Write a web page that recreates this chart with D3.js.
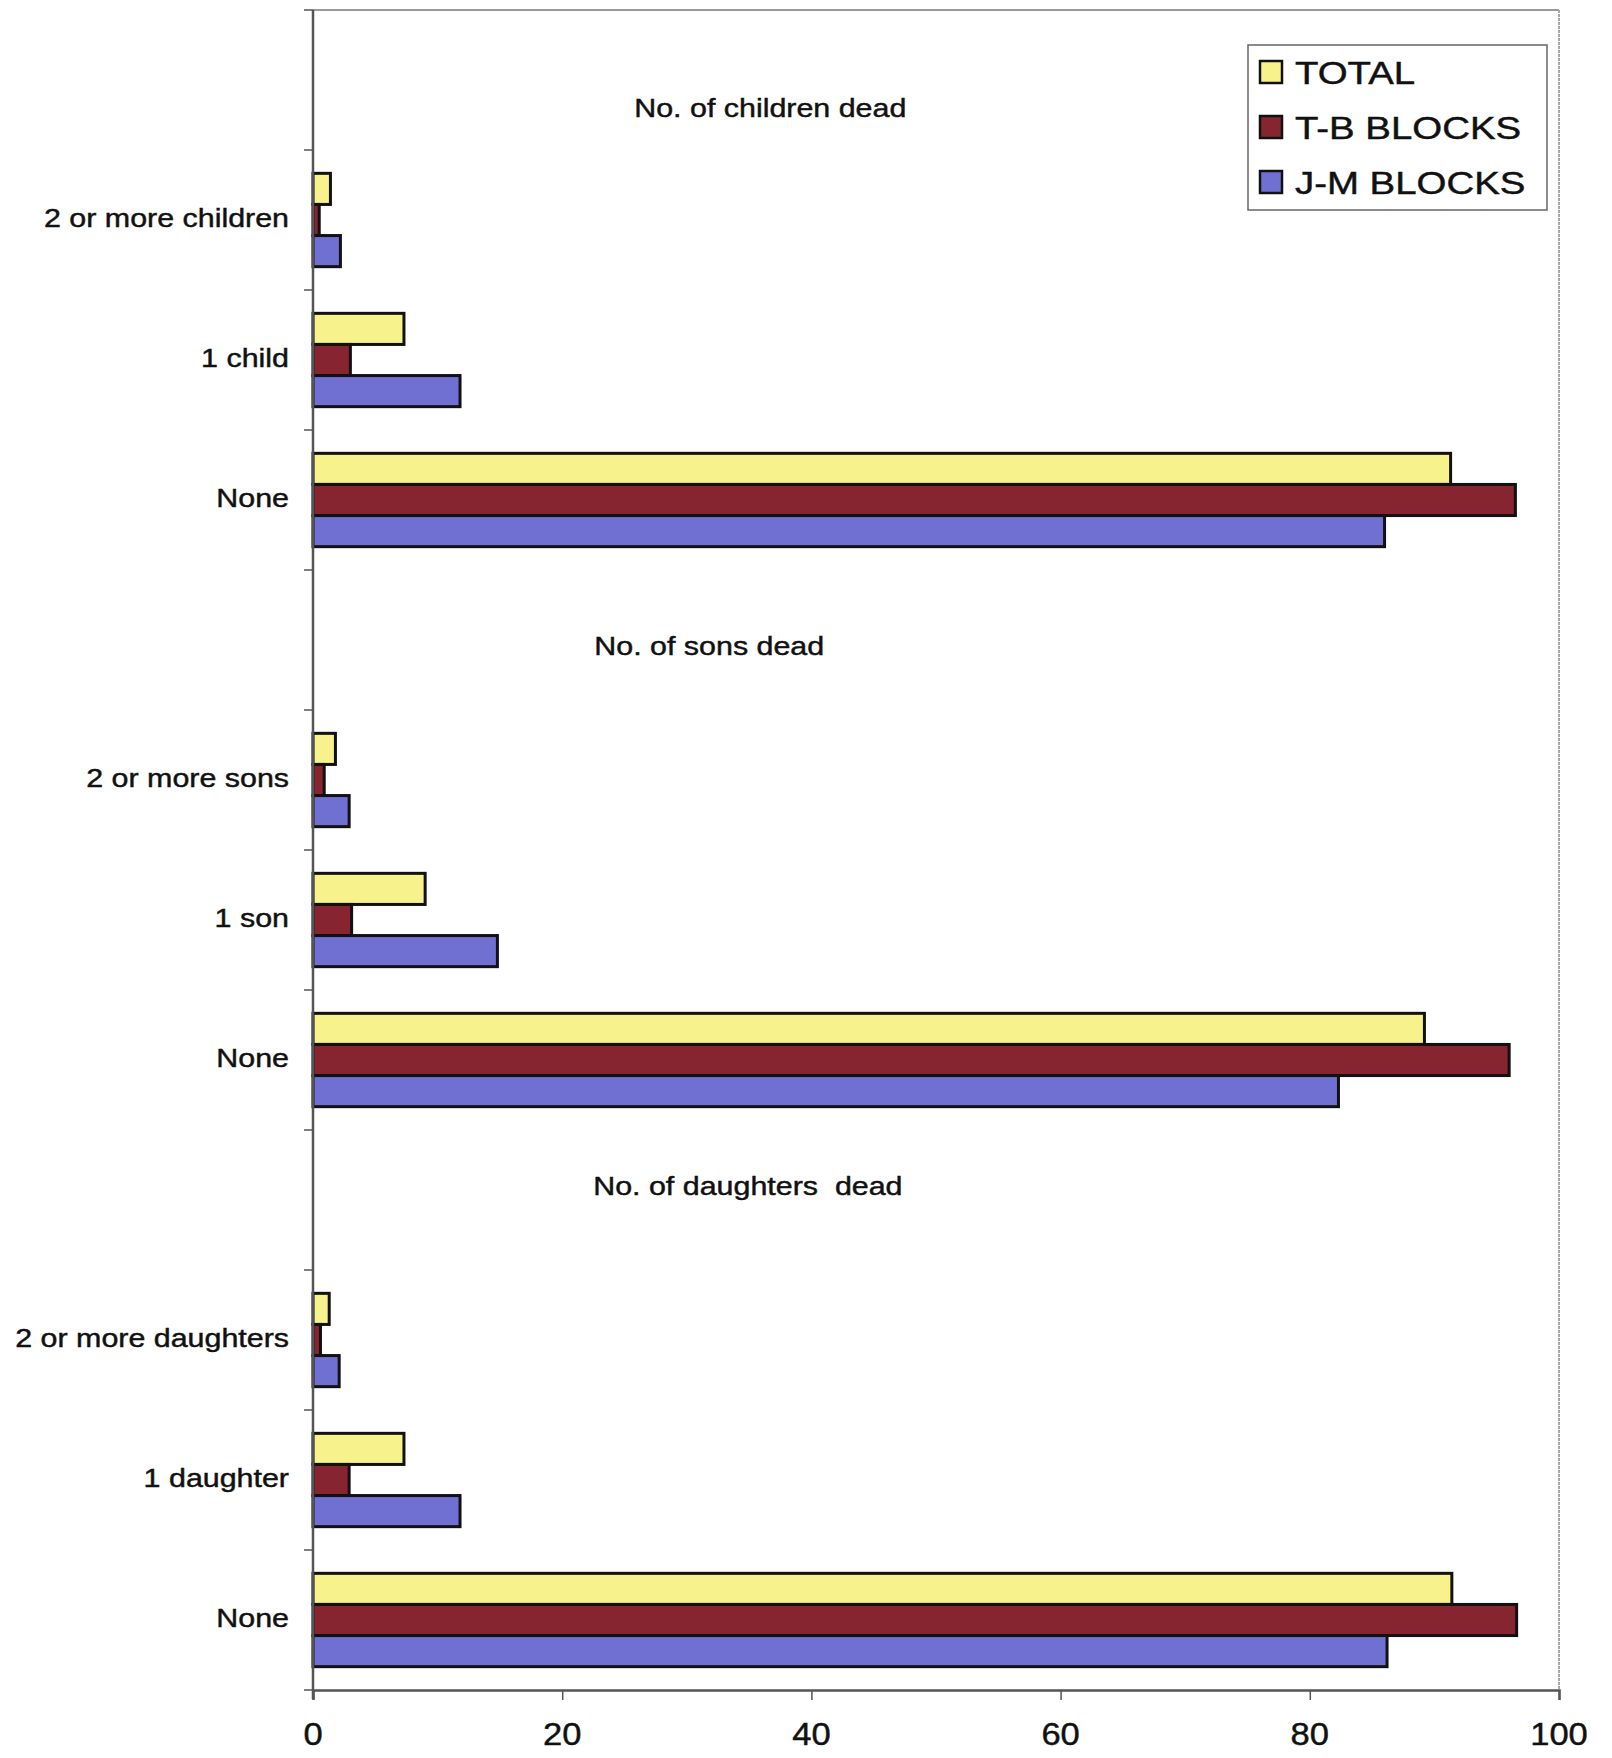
<!DOCTYPE html>
<html>
<head>
<meta charset="utf-8">
<script src="https://cdn.jsdelivr.net/npm/d3@7"></script>
<style>
  html, body { margin: 0; padding: 0; background: #fff; }
  svg { display: block; }
  text { font-family: "Liberation Sans", Arial, sans-serif; fill: #111; stroke: #111; stroke-width: 0.45px; }
</style>
</head>
<body>
<svg id="chart" width="1612" height="1758"></svg>
<script>
// ---------------- data ----------------
const groupTitles = ["No. of children dead", "No. of sons dead", "No. of daughters  dead"];
const rowLabels = [
  ["2 or more children", "1 child", "None"],
  ["2 or more sons", "1 son", "None"],
  ["2 or more daughters", "1 daughter", "None"]
];
const seriesNames = ["TOTAL", "T-B BLOCKS", "J-M BLOCKS"];
// values per row, in the order of rowLabels (flattened)
const totalValues = [1.4, 7.3, 91.3, 1.8, 9.0, 89.2, 1.3, 7.3, 91.4];
const tbValues    = [0.5, 3.0, 96.5, 0.9, 3.1, 96.0, 0.6, 2.9, 96.6];
const jmValues    = [2.2, 11.8, 86.0, 2.9, 14.8, 82.3, 2.1, 11.8, 86.2];
const xTicks = [0, 20, 40, 60, 80, 100];
const seriesColors = ["#f7f28c", "#862430", "#6f70d2"];

// ---------------- build rows ----------------
const seriesValues = [totalValues, tbValues, jmValues];
const rows = [];
let k = 0;
groupTitles.forEach((t, g) => {
  rows.push({ id: rows.length, header: t, group: g });
  rowLabels[g].forEach(lbl => {
    rows.push({ id: rows.length, label: lbl, values: seriesValues.map(s => s[k]) });
    k++;
  });
});

// ---------------- layout ----------------
const svg = d3.select("#chart");
const pLeft = 313, pRight = 1559, pTop = 10, pBottom = 1690;

const x = d3.scaleLinear().domain([0, 100]).range([pLeft, pRight]);
const y = d3.scaleBand().domain(rows.map(r => r.id)).range([pTop, pBottom])
  .paddingInner(1 / 3).paddingOuter(1 / 6);
const ySub = d3.scaleBand().domain([0, 1, 2]).range([0, y.bandwidth()]);

const sxText = 1.17;
function scaledText(sel, tx, ty, str, size, anchor, sx) {
  const g = sel.append("g").attr("transform", `translate(${tx},${ty})`);
  g.append("text")
    .attr("transform", `scale(${sx},1)`)
    .attr("text-anchor", anchor)
    .style("font-size", size + "px")
    .style("white-space", "pre")
    .attr("xml:space", "preserve")
    .text(str);
  return g;
}

// frame: top and right (light gray)
svg.append("line").attr("x1", pLeft).attr("x2", pRight).attr("y1", pTop).attr("y2", pTop)
  .attr("stroke", "#9a9a9a").attr("stroke-width", 2);
svg.append("line").attr("x1", pRight).attr("x2", pRight).attr("y1", pTop).attr("y2", pBottom)
  .attr("stroke", "#a8a8a8").attr("stroke-width", 2).attr("stroke-dasharray", "3,1");

// bars
const bars = svg.append("g");
rows.filter(r => r.values).forEach(r => {
  bars.selectAll(null)
    .data(r.values)
    .enter().append("rect")
    .attr("x", x(0))
    .attr("y", (d, i) => y(r.id) + ySub(i))
    .attr("width", d => x(d) - x(0))
    .attr("height", ySub.bandwidth())
    .attr("fill", (d, i) => seriesColors[i])
    .attr("stroke", "#111")
    .attr("stroke-width", 3);
});

// y axis line + ticks at band boundaries
const boundaries = d3.range(rows.length + 1).map(i => pTop + i * y.step());
svg.append("line").attr("x1", pLeft).attr("x2", pLeft).attr("y1", pTop).attr("y2", pBottom + 9)
  .attr("stroke", "#555").attr("stroke-width", 2.5);
svg.append("g").selectAll("line").data(boundaries).enter().append("line")
  .attr("x1", pLeft - 9).attr("x2", pLeft).attr("y1", d => d).attr("y2", d => d)
  .attr("stroke", "#555").attr("stroke-width", 1.5);

// x axis
const xAxis = d3.axisBottom(x).tickValues(xTicks).tickSize(10).tickPadding(20).tickFormat(d3.format("d"));
const xg = svg.append("g").attr("transform", `translate(0,${pBottom})`).call(xAxis);
xg.select(".domain").attr("stroke", "#555").attr("stroke-width", 2.5);
xg.selectAll(".tick line").attr("stroke", "#555").attr("stroke-width", 1.5);
xg.selectAll(".tick text").remove();
xTicks.forEach(t => scaledText(svg, x(t), 1745, String(t), 32, "middle", 1.08));

// category labels
rows.filter(r => r.label).forEach(r => {
  scaledText(svg, pLeft - 24, y(r.id) + y.bandwidth() / 2 + 7, r.label, 26, "end", sxText);
});

// group headers (annotations inside plot)
const headerPos = [{ xv: 36.7, dy: 37 }, { xv: 31.8, dy: 15 }, { xv: 34.9, dy: -5 }];
rows.filter(r => r.header).forEach(r => {
  const p = headerPos[r.group];
  scaledText(svg, x(p.xv), y(r.id) + y.bandwidth() / 2 + p.dy, r.header, 26, "middle", sxText);
});

// legend
const lg = svg.append("g");
lg.append("rect").attr("x", 1248).attr("y", 45).attr("width", 299).attr("height", 165)
  .attr("fill", "#fff").attr("stroke", "#666").attr("stroke-width", 1.5);
seriesNames.forEach((s, i) => {
  const cy = 72 + i * 55;
  lg.append("rect").attr("x", 1260).attr("y", cy - 11).attr("width", 22).attr("height", 22)
    .attr("fill", seriesColors[i]).attr("stroke", "#111").attr("stroke-width", 2.5);
  scaledText(lg, 1295, cy + 12, s, 32, "start", 1.2);
});
</script>
</body>
</html>
